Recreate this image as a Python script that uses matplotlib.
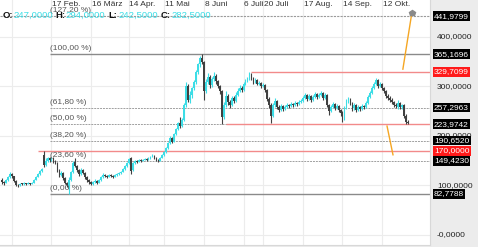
import numpy as np
import pandas as pd
import matplotlib
matplotlib.use("Agg")
import matplotlib.pyplot as plt
from matplotlib.transforms import blended_transform_factory

plt.rcParams['font.family'] = ['Liberation Sans', 'DejaVu Sans']

# trading days (Xetra 2020)
holidays = ['2020-04-10', '2020-04-13', '2020-05-01']
days = pd.bdate_range('2020-01-13', '2020-10-29')
days = days[~days.isin(pd.to_datetime(holidays))]

opens = [112, 108, 106, 112, 118, 124, 119, 110, 102, 100, 104, 103, 105, 104, 105, 104, 106, 112, 118, 124,
         130, 162, 142, 150, 155, 152, 156, 150, 146, 132, 122, 126, 115, 106, 92, 112, 128, 148, 140, 132,
         124, 132, 126, 118, 112, 108, 104, 108, 110, 106, 112, 118, 122, 120, 118, 122, 120, 118, 122, 124,
         126, 128, 134, 140, 146, 155, 132, 146, 150, 148, 152, 150, 152, 154, 152, 155, 158, 160, 156, 152,
         150, 156, 162, 168, 176, 186, 196, 188, 204, 214, 226, 220, 232, 262, 300, 272, 282, 296, 310, 330,
         345, 358, 350, 290, 310, 320, 302, 315, 322, 312, 300, 290, 238, 262, 280, 268, 262, 276, 270, 282,
         290, 296, 292, 305, 312, 316, 325, 318, 310, 314, 306, 308, 300, 304, 292, 275, 262, 240, 262, 270,
         258, 252, 260, 255, 258, 262, 260, 264, 262, 266, 264, 268, 270, 276, 282, 274, 280, 272, 278, 284,
         278, 282, 286, 276, 282, 262, 250, 258, 264, 256, 260, 252, 246, 234, 256, 270, 274, 266, 256, 262,
         252, 258, 254, 260, 258, 266, 278, 286, 296, 306, 314, 300, 306, 296, 290, 280, 276, 272, 268, 262,
         258, 266, 258, 262, 240, 228]
highs = [116, 110, 114, 120, 127, 125, 120, 112, 104, 106, 106, 107, 106, 107, 106, 108, 114, 120, 126, 131,
         136, 170, 156, 158, 157, 158, 157, 152, 147, 134, 130, 127, 117, 108, 117, 130, 150, 156, 142, 134,
         136, 134, 128, 120, 114, 110, 110, 113, 111, 114, 120, 125, 124, 122, 124, 123, 122, 124, 126, 128,
         130, 136, 142, 148, 156, 157, 148, 152, 152, 154, 153, 154, 156, 155, 157, 160, 163, 161, 157, 153,
         158, 164, 170, 178, 188, 199, 198, 206, 216, 228, 238, 236, 266, 309, 306, 290, 299, 314, 334, 348,
         362, 366, 352, 316, 327, 324, 320, 329, 326, 314, 304, 292, 268, 290, 284, 272, 280, 280, 288, 296,
         302, 300, 310, 316, 320, 330, 328, 320, 318, 316, 312, 310, 308, 306, 294, 278, 266, 266, 277, 272,
         262, 264, 262, 262, 266, 264, 268, 266, 270, 268, 272, 274, 280, 287, 284, 284, 282, 282, 288, 286,
         286, 290, 288, 286, 284, 264, 262, 268, 266, 264, 262, 254, 250, 260, 274, 279, 276, 268, 266, 264,
         262, 260, 264, 262, 270, 282, 290, 300, 310, 318, 316, 310, 308, 298, 292, 284, 280, 276, 270, 266,
         272, 268, 264, 264, 244, 232]
lows = [103, 102, 105, 110, 116, 116, 108, 99, 97, 99, 101, 102, 102, 103, 102, 103, 105, 111, 117, 122,
        128, 138, 140, 147, 148, 150, 146, 143, 128, 118, 120, 112, 103, 96, 83, 110, 126, 138, 128, 120,
        122, 124, 114, 108, 104, 100, 102, 106, 103, 105, 110, 116, 118, 116, 117, 118, 116, 117, 120, 122,
        124, 127, 132, 138, 144, 124, 130, 144, 146, 147, 148, 149, 151, 150, 151, 154, 157, 154, 150, 147,
        149, 155, 160, 166, 174, 184, 186, 187, 202, 212, 216, 218, 230, 258, 268, 266, 276, 292, 306, 326,
        340, 345, 272, 286, 306, 296, 298, 312, 306, 296, 284, 224, 234, 258, 262, 256, 260, 266, 268, 280,
        288, 288, 290, 302, 310, 314, 314, 306, 308, 302, 302, 296, 298, 288, 270, 256, 226, 238, 258, 254,
        248, 250, 250, 253, 256, 256, 258, 258, 260, 260, 262, 266, 268, 274, 270, 272, 268, 270, 276, 274,
        276, 280, 272, 274, 258, 242, 248, 256, 252, 254, 248, 240, 228, 232, 254, 266, 262, 250, 252, 248,
        250, 250, 252, 254, 256, 264, 276, 284, 294, 304, 296, 298, 292, 286, 276, 272, 268, 264, 258, 256,
        254, 254, 254, 236, 224, 224]
closes = [108, 106, 112, 118, 124, 119, 110, 102, 100, 104, 103, 105, 104, 105, 104, 106, 112, 118, 124, 130,
          134, 142, 150, 155, 152, 156, 150, 146, 132, 122, 126, 115, 106, 100, 112, 128, 145, 140, 132, 124,
          132, 126, 118, 112, 108, 104, 108, 110, 106, 112, 118, 122, 120, 118, 122, 120, 118, 122, 124, 126,
          128, 134, 140, 146, 154, 130, 146, 150, 148, 152, 150, 152, 154, 152, 155, 158, 160, 156, 152, 150,
          156, 162, 168, 176, 186, 196, 188, 204, 214, 226, 220, 232, 262, 300, 272, 282, 296, 310, 330, 345,
          358, 350, 290, 310, 320, 302, 315, 322, 312, 300, 290, 238, 262, 280, 268, 262, 276, 270, 282, 290,
          296, 292, 305, 312, 316, 325, 318, 310, 314, 306, 308, 300, 304, 292, 275, 262, 240, 262, 270, 258,
          252, 260, 255, 258, 262, 260, 264, 262, 266, 264, 268, 270, 276, 282, 274, 280, 272, 278, 284, 278,
          282, 286, 276, 282, 262, 250, 258, 264, 256, 260, 252, 246, 234, 256, 270, 274, 266, 256, 262, 252,
          258, 254, 260, 258, 266, 278, 286, 296, 306, 314, 300, 306, 296, 290, 280, 276, 272, 268, 262, 260,
          266, 258, 262, 240, 228, 226]

# fibonacci levels
fib_levels = [441.9799, 365.1696, 257.2963, 223.9742, 190.6520, 149.4230, 82.7788]
fib_labels = ['(127,20 %)', '(100,00 %)', '(61,80 %)', '(50,00 %)', '(38,20 %)', '(23,60 %)', '(0,00 %)']
fib_start = '2020-02-14'

# red support / resistance lines: (level, start date)
red_lines = [(329.7099, '2020-07-10'), (223.9742, '2020-06-23'), (170.0000, '2020-02-06')]

# orange projection lines (index, value)
orange_up_x = [202.5, 207.0]
orange_up_y = [335, 448]
orange_dn_x = [194.5, 197.5]
orange_dn_y = [220, 162]

grid_dates = ['2020-01-20', '2020-02-17', '2020-03-16', '2020-04-14', '2020-05-11', '2020-06-08',
              '2020-07-06', '2020-07-20', '2020-08-17', '2020-09-14', '2020-10-12']
grid_labels = ['', '17 Feb.', '16 März', '14 Apr.', '11 Mai', '8 Juni',
               '6 Juli', '20 Juli', '17 Aug.', '14 Sep.', '12 Okt.']

y_ticks = [400, 300, 200, 100, 0]
y_tick_labels = ['400,0000', '300,0000', '200,0000', '100,0000', '-0,0000']

ohlc_names = ['O:', 'H:', 'L:', 'C:']
ohlc_values = ['247,0000', '294,0000', '242,5000', '282,5000']


def fmt(v):
    return f'{v:.4f}'.replace('.', ',')


def idx(date):
    return days.get_loc(pd.Timestamp(date))


UP = '#3cdde6'
DOWN = '#404040'
GRID = '#ececec'

fig = plt.figure(figsize=(4.78, 2.47), dpi=100)
fig.patch.set_facecolor('#ececec')
ax = fig.add_axes([0, 2 / 247, 430 / 478, 245 / 247])
ax.set_facecolor('white')
ax.set_xlim(-1.01, 216.2)
ax.set_ylim(-20.2, 474.7)
for s in ax.spines.values():
    s.set_visible(False)
ax.spines['right'].set_visible(True)
ax.spines['right'].set_color('#d8d8d8')
ax.spines['bottom'].set_visible(True)
ax.spines['bottom'].set_color('#d8d8d8')
ax.set_xticks([])
ax.set_yticks([])

# grid
for yv in y_ticks:
    ax.axhline(yv, color=GRID, lw=0.8, zorder=0)
grid_idx = [idx(d) for d in grid_dates]
for gi in grid_idx:
    ax.axvline(gi, color=GRID, lw=0.8, zorder=0)

# candles
x = np.arange(len(days))
o = np.array(opens)
h = np.array(highs)
l = np.array(lows)
c = np.array(closes)
cols = np.where(c >= o, UP, DOWN)
ax.vlines(x, l, h, colors=cols, lw=0.8, zorder=3)
body = np.maximum(np.abs(c - o), 1.5)
ax.bar(x, body, bottom=np.minimum(o, c), width=0.9, color=cols, lw=0, zorder=3)

xmax = ax.get_xlim()[1]
fs = idx(fib_start)

# fib lines
for k, (lv, lab) in enumerate(zip(fib_levels, fib_labels)):
    if k == 0:
        ax.hlines(lv, -1.01, xmax, colors='#9a9a9a', lw=0.8, linestyles=(0, (2, 1)), zorder=2)
    elif lab in ('(100,00 %)', '(0,00 %)'):
        ax.hlines(lv, fs, xmax, colors='#8a8a8a', lw=1.0, zorder=2)
    else:
        ax.hlines(lv, fs, xmax, colors='#a0a0a0', lw=0.7, linestyles=(0, (2, 1)), zorder=2)
    ax.text(fs, lv + 4, lab, fontsize=6, color='#555555', ha='left', va='bottom', zorder=4)

for lv, d in red_lines:
    ax.hlines(lv, idx(d), xmax, colors='#f28a8a', lw=1.0, zorder=2)

ax.plot(orange_up_x, orange_up_y, color='#f5a623', lw=1.0, zorder=5)
ax.plot(orange_dn_x, orange_dn_y, color='#f5a623', lw=1.0, zorder=5)
ax.plot(orange_up_x[1:], orange_up_y[1:], marker='p', ms=4, color='#8a8a8a', zorder=6)

# date labels
tr_top = blended_transform_factory(ax.transData, ax.transAxes)
for gi, lab in zip(grid_idx, grid_labels):
    ax.text(gi + 0.3, 0.995, lab, transform=tr_top, fontsize=6, color='#333333',
            ha='left', va='top')

# header OHLC
hx = [3, 55, 108, 161]
for px, nm, val in zip(hx, ohlc_names, ohlc_values):
    fig.text(px / 478, 1 - 15 / 247, nm, fontsize=6.8, fontweight='bold', color='#111111',
             ha='left', va='center')
    fig.text((px + 10) / 478, 1 - 15 / 247, val, fontsize=6.8, color='#3cdde6',
             ha='left', va='center')

# right axis labels
tr_r = blended_transform_factory(ax.transAxes, ax.transData)
for yv, lab in zip(y_ticks, y_tick_labels):
    ax.text(437 / 430, yv, lab, transform=tr_r, fontsize=6, color='#222222',
            ha='left', va='center', clip_on=False, zorder=7)
for lv in fib_levels:
    ax.text(434 / 430, lv, fmt(lv), transform=tr_r, fontsize=6, color='white',
            ha='left', va='center', clip_on=False, zorder=8,
            bbox=dict(boxstyle='square,pad=0.15', fc='black', ec='none'))
for lv, d in red_lines:
    if lv in fib_levels:
        continue
    ax.text(434 / 430, lv, fmt(lv), transform=tr_r, fontsize=6, color='white',
            ha='left', va='center', clip_on=False, zorder=8,
            bbox=dict(boxstyle='square,pad=0.15', fc='#ff1a1a', ec='none'))

fig.savefig('out.png', dpi=100)
